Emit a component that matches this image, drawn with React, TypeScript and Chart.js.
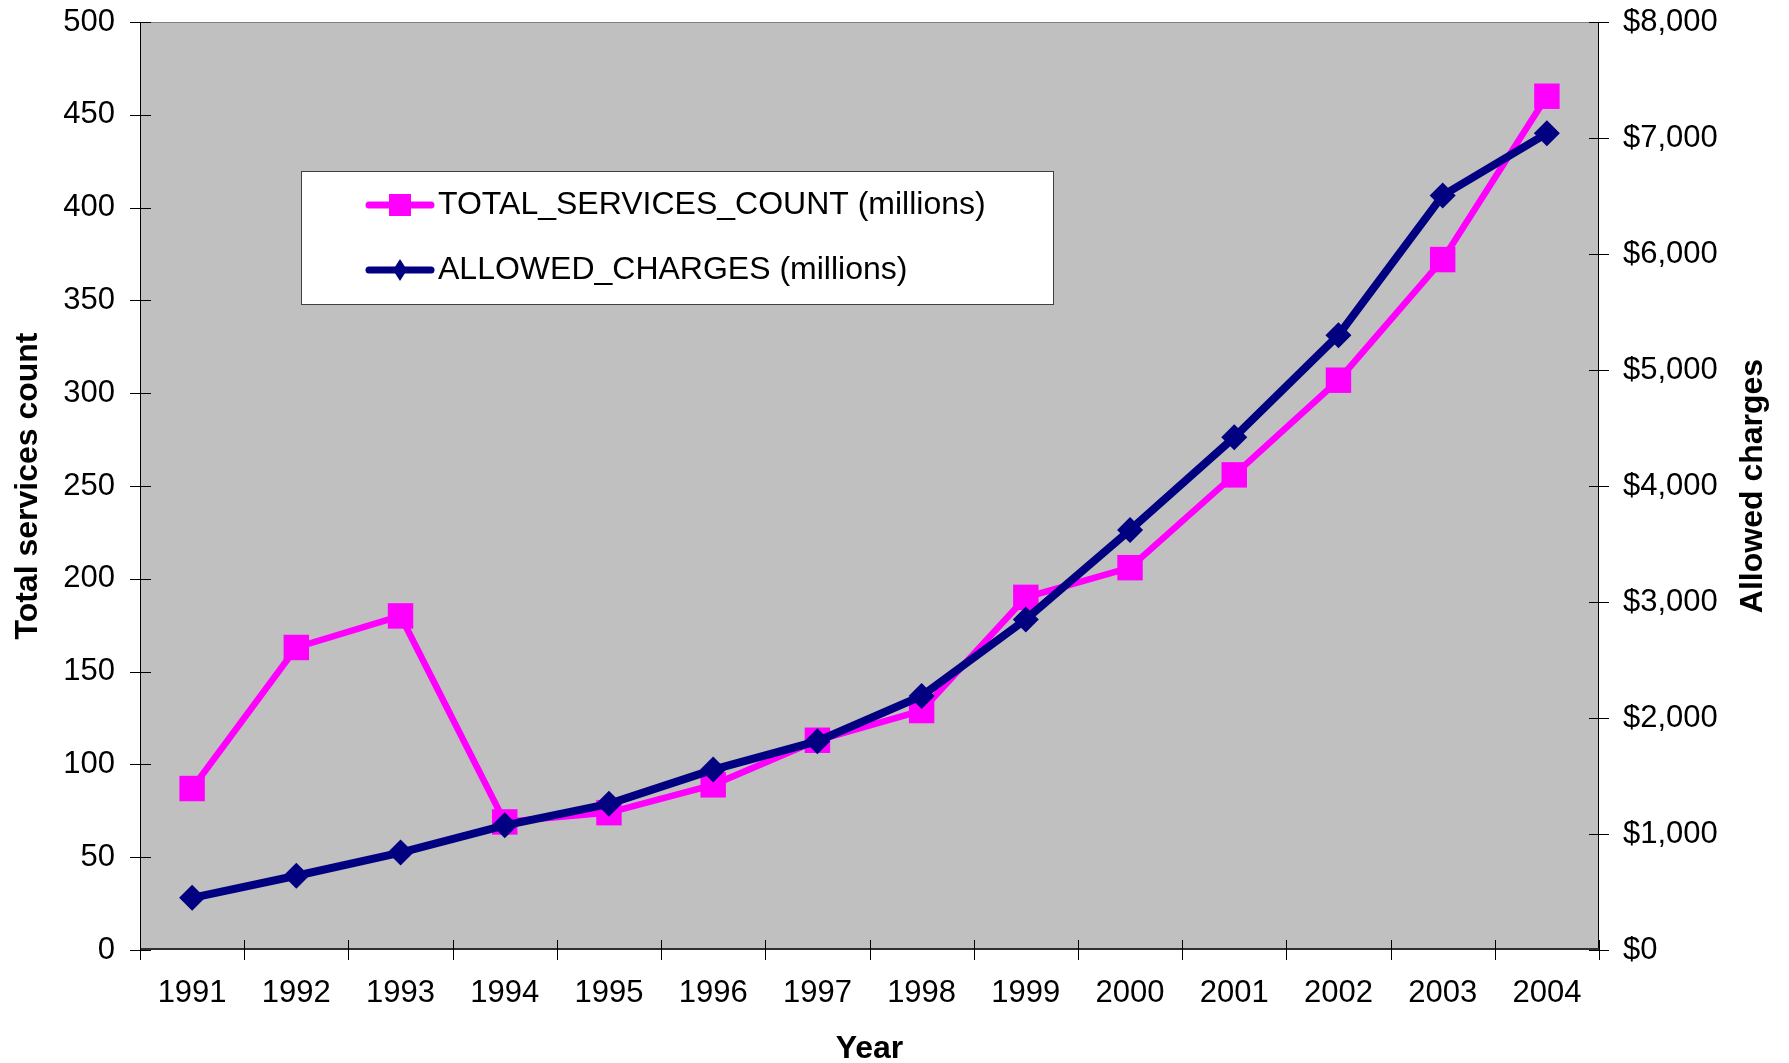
import React, { useEffect, useRef } from 'react';
import { Chart, registerables } from 'chart.js';

Chart.register(...registerables);

const years = ['1991', '1992', '1993', '1994', '1995', '1996', '1997', '1998', '1999', '2000', '2001', '2002', '2003', '2004'];
const servicesCount = [87, 163, 180, 69, 74, 89, 113, 129, 190, 206, 256, 307, 372, 460];
const allowedCharges = [450, 640, 840, 1075, 1260, 1555, 1800, 2190, 2850, 3620, 4420, 5300, 6505, 7040];

const servicesLabel = 'TOTAL_SERVICES_COUNT (millions)';
const chargesLabel = 'ALLOWED_CHARGES (millions)';
const xTitle = 'Year';
const leftTitle = 'Total services count';
const rightTitle = 'Allowed charges';

const FONT = "'Liberation Sans', Arial, Helvetica, sans-serif";
const PINK = '#FF00FF';
const NAVY = '#000080';

const decorPlugin = {
  id: 'decor',
  beforeDraw(chart: any) {
    const { ctx, chartArea: a } = chart;
    ctx.save();
    ctx.fillStyle = '#C0C0C0';
    ctx.fillRect(a.left, a.top, a.right - a.left, a.bottom - a.top);
    ctx.restore();
  },
  beforeDatasetsDraw(chart: any) {
    const { ctx, chartArea: a, scales } = chart;
    ctx.save();
    // plot border
    ctx.strokeStyle = '#808080';
    ctx.lineWidth = 1;
    ctx.strokeRect(a.left + 0.5, a.top + 0.5, a.right - a.left - 1, a.bottom - a.top - 1);
    // axis lines
    ctx.strokeStyle = '#000';
    ctx.beginPath();
    ctx.moveTo(a.left + 0.5, a.top);
    ctx.lineTo(a.left + 0.5, a.bottom);
    ctx.moveTo(a.right - 0.5, a.top);
    ctx.lineTo(a.right - 0.5, a.bottom);
    ctx.stroke();
    ctx.strokeStyle = '#303030';
    ctx.lineWidth = 2;
    ctx.beginPath();
    ctx.moveTo(a.left, a.bottom - 1);
    ctx.lineTo(a.right, a.bottom - 1);
    ctx.stroke();
    // tick marks crossing the axes
    ctx.strokeStyle = '#000';
    ctx.lineWidth = 1;
    ctx.beginPath();
    const yl = scales.y;
    yl.ticks.forEach((t: any) => {
      const py = Math.round(yl.getPixelForValue(t.value)) + 0.5;
      ctx.moveTo(a.left - 10, py);
      ctx.lineTo(a.left + 11, py);
    });
    const yr = scales.y1;
    yr.ticks.forEach((t: any) => {
      const py = Math.round(yr.getPixelForValue(t.value)) + 0.5;
      ctx.moveTo(a.right - 10, py);
      ctx.lineTo(a.right + 10, py);
    });
    const xs = scales.x;
    const half = (xs.getPixelForValue(1) - xs.getPixelForValue(0)) / 2;
    for (let i = 0; i <= years.length; i++) {
      const px = Math.round(xs.getPixelForValue(i) - half) + 0.5;
      ctx.moveTo(px, a.bottom - 10);
      ctx.lineTo(px, a.bottom + 10);
    }
    ctx.stroke();
    ctx.restore();
  },
  afterDraw(chart: any) {
    const { ctx, chartArea: a } = chart;
    ctx.save();
    // right axis title (reads bottom to top)
    ctx.fillStyle = '#000';
    ctx.font = `bold 32px ${FONT}`;
    ctx.textAlign = 'center';
    ctx.textBaseline = 'alphabetic';
    ctx.translate(1762, (a.top + a.bottom) / 2);
    ctx.rotate(-Math.PI / 2);
    ctx.fillText(rightTitle, 0, 0);
    ctx.restore();

    // legend box
    ctx.save();
    const bx = 301, by = 171, bw = 752, bh = 133;
    ctx.fillStyle = '#FFFFFF';
    ctx.fillRect(bx, by, bw, bh);
    ctx.strokeStyle = '#404040';
    ctx.lineWidth = 1;
    ctx.strokeRect(bx + 0.5, by + 0.5, bw, bh);
    const rows = [205, 270];
    chart.data.datasets.forEach((ds: any, i: number) => {
      const cy = rows[i];
      ctx.strokeStyle = ds.borderColor;
      ctx.lineWidth = 7;
      ctx.lineCap = 'round';
      ctx.beginPath();
      ctx.moveTo(369, cy);
      ctx.lineTo(431, cy);
      ctx.stroke();
      ctx.fillStyle = ds.backgroundColor;
      if (ds.pointStyle === 'rect') {
        ctx.fillRect(400 - 11, cy - 11, 22, 22);
      } else {
        ctx.beginPath();
        ctx.moveTo(400, cy - 11);
        ctx.lineTo(407, cy);
        ctx.lineTo(400, cy + 11);
        ctx.lineTo(393, cy);
        ctx.closePath();
        ctx.fill();
      }
      ctx.fillStyle = '#000';
      ctx.font = `32px ${FONT}`;
      ctx.textAlign = 'left';
      ctx.textBaseline = 'middle';
      ctx.fillText(ds.label, 438, cy);
    });
    ctx.restore();
  },
};

export default function App() {
  const canvasRef = useRef<HTMLCanvasElement | null>(null);

  useEffect(() => {
    const canvas = canvasRef.current;
    if (!canvas) return;
    Chart.defaults.font.family = FONT;
    const chart = new Chart(canvas, {
      type: 'line',
      data: {
        labels: years,
        datasets: [
          {
            label: servicesLabel,
            data: servicesCount,
            yAxisID: 'y',
            borderColor: PINK,
            backgroundColor: PINK,
            borderWidth: 6.5,
            pointStyle: 'rect',
            pointRadius: 18,
            pointHoverRadius: 18,
            pointBorderWidth: 0,
            tension: 0,
            order: 2,
          },
          {
            label: chargesLabel,
            data: allowedCharges,
            yAxisID: 'y1',
            borderColor: NAVY,
            backgroundColor: NAVY,
            borderWidth: 8,
            pointStyle: 'rectRot',
            pointRadius: 13,
            pointHoverRadius: 13,
            pointBorderWidth: 0,
            tension: 0,
            order: 1,
          },
        ],
      },
      options: {
        responsive: false,
        animation: false,
        devicePixelRatio: 1,
        layout: { padding: { top: 22, left: 0, right: 0, bottom: 0 } },
        plugins: {
          legend: { display: false },
          tooltip: { enabled: false },
        },
        scales: {
          x: {
            type: 'category',
            offset: true,
            grid: { display: false, drawTicks: false },
            border: { display: false },
            ticks: { color: '#000', font: { size: 31 }, padding: 25, maxRotation: 0, autoSkip: false },
            title: {
              display: true,
              text: xTitle,
              color: '#000',
              font: { size: 32, weight: 'bold', lineHeight: 1 },
              padding: { top: 0, bottom: -2 },
            },
            afterFit: (s: any) => {
              s.height = 113;
            },
          },
          y: {
            position: 'left',
            min: 0,
            max: 500,
            grid: { display: false, drawTicks: true, tickLength: 25 },
            border: { display: false },
            ticks: { stepSize: 50, color: '#000', font: { size: 31 }, padding: 0 },
            title: {
              display: true,
              text: leftTitle,
              color: '#000',
              font: { size: 32, weight: 'bold', lineHeight: 1 },
              padding: { top: 12, bottom: 0 },
            },
            afterFit: (s: any) => {
              s.width = 140;
            },
          },
          y1: {
            position: 'right',
            min: 0,
            max: 8000,
            grid: { display: false, drawTicks: true, tickLength: 24 },
            border: { display: false },
            ticks: {
              stepSize: 1000,
              color: '#000',
              font: { size: 31 },
              padding: 0,
              callback: (v: any) => '$' + Number(v).toLocaleString('en-US'),
            },
            afterFit: (s: any) => {
              s.width = 190;
            },
          },
        },
      } as any,
      plugins: [decorPlugin],
    });
    return () => chart.destroy();
  }, []);

  return (
    <div style={{ position: 'absolute', left: 0, top: 0, width: 1789, height: 1063, background: '#fff' }}>
      <canvas ref={canvasRef} width={1789} height={1063} style={{ display: 'block', width: 1789, height: 1063 }} />
    </div>
  );
}
